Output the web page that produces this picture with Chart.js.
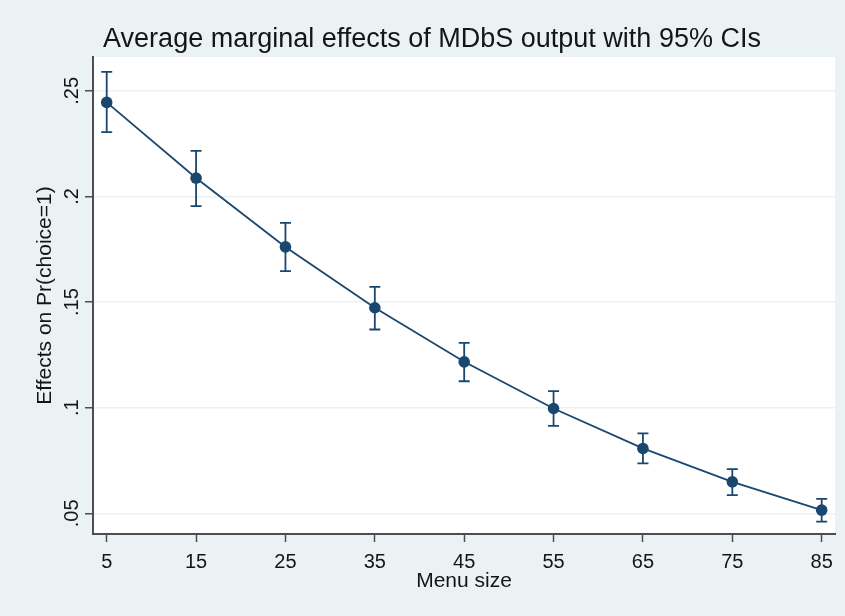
<!DOCTYPE html>
<html>
<head>
<meta charset="utf-8">
<title>Average marginal effects</title>
<script src="https://cdn.jsdelivr.net/npm/chart.js@4.4.0/dist/chart.umd.min.js"></script>
<style>
    html, body { margin: 0; padding: 0; background: #eaf2f3; }
    #wrap { width: 845px; height: 616px; }
</style>
</head>
<body>
<div id="wrap"><canvas id="marginsChart" width="845" height="616"></canvas></div>
<script>
// Menu size categories and estimated margins
const menuSizes = [5, 15, 25, 35, 45, 55, 65, 75, 85];
const effects = [0.2445, 0.2087, 0.1761, 0.1473, 0.1217, 0.0996, 0.0807, 0.0649, 0.0515];
const ciLower = [0.2304, 0.1954, 0.1646, 0.1370, 0.1125, 0.0914, 0.0736, 0.0586, 0.0461];
const ciUpper = [0.2590, 0.2216, 0.1875, 0.1572, 0.1307, 0.1078, 0.0878, 0.0709, 0.0568];

const xTicks = [5, 15, 25, 35, 45, 55, 65, 75, 85];
const yTicks = [0.05, 0.1, 0.15, 0.2, 0.25];
const yTickLabels = ['.05', '.1', '.15', '.2', '.25'];

const navy = '#1a476f';
const axisGray = '#4d4d4d';
const textColor = '#151515';
const fontFamily = '"Liberation Sans", Arial, sans-serif';

// Stata-like backgrounds: bluish gray outside, white plot region
const backgroundPlugin = {
    id: 'stataBackground',
    beforeDraw(chart) {
        const ctx = chart.ctx;
        const a = chart.chartArea;
        ctx.save();
        ctx.fillStyle = '#eaf2f3';
        ctx.fillRect(0, 0, chart.width, chart.height);
        ctx.fillStyle = '#ffffff';
        ctx.fillRect(a.left, a.top, a.right - a.left, a.bottom - a.top);
        ctx.restore();
    }
};

// 95% CI capped spikes, drawn under the line and markers
const errorBarPlugin = {
    id: 'errorBars',
    beforeDatasetsDraw(chart) {
        const ctx = chart.ctx;
        const xs = chart.scales.x;
        const ys = chart.scales.y;
        const cap = 5.5;
        ctx.save();
        ctx.strokeStyle = navy;
        ctx.lineWidth = 1.8;
        for (let i = 0; i < menuSizes.length; i++) {
            const x = xs.getPixelForValue(menuSizes[i]);
            const yLo = ys.getPixelForValue(ciLower[i]);
            const yHi = ys.getPixelForValue(ciUpper[i]);
            ctx.beginPath();
            ctx.moveTo(x, yLo);
            ctx.lineTo(x, yHi);
            ctx.moveTo(x - cap, yLo);
            ctx.lineTo(x + cap, yLo);
            ctx.moveTo(x - cap, yHi);
            ctx.lineTo(x + cap, yHi);
            ctx.stroke();
        }
        ctx.restore();
    }
};

function renderChart() {
    const ctx = document.getElementById('marginsChart');
    new Chart(ctx, {
        type: 'line',
        data: {
            datasets: [{
                label: 'Effects',
                data: menuSizes.map((m, i) => ({ x: m, y: effects[i] })),
                borderColor: navy,
                backgroundColor: navy,
                borderWidth: 1.8,
                pointRadius: 5.8,
                pointBackgroundColor: navy,
                pointBorderWidth: 0,
                tension: 0
            }]
        },
        options: {
            responsive: false,
            animation: false,
            layout: { padding: { left: 29, right: 10, top: 0, bottom: 0 } },
            plugins: {
                legend: { display: false },
                tooltip: { enabled: false },
                title: {
                    display: true,
                    text: 'Average marginal effects of MDbS output with 95% CIs',
                    color: textColor,
                    font: { family: fontFamily, size: 27, weight: 'normal' },
                    padding: { top: 23, bottom: 1.6 }
                }
            },
            scales: {
                x: {
                    type: 'linear',
                    min: 3.467,
                    max: 86.49,
                    afterBuildTicks(scale) {
                        scale.ticks = xTicks.map(v => ({ value: v }));
                    },
                    afterFit(scale) {
                        scale.height = 82;
                    },
                    grid: {
                        drawOnChartArea: false,
                        drawTicks: true,
                        tickLength: 8,
                        tickColor: axisGray,
                        tickWidth: 1.5
                    },
                    border: { color: axisGray, width: 2 },
                    ticks: {
                        color: textColor,
                        padding: 8,
                        maxRotation: 0,
                        autoSkip: false,
                        font: { family: fontFamily, size: 20 }
                    },
                    title: {
                        display: true,
                        text: 'Menu size',
                        color: textColor,
                        font: { family: fontFamily, size: 21 },
                        padding: { top: 0, bottom: 22 }
                    }
                },
                y: {
                    type: 'linear',
                    min: 0.0402,
                    max: 0.266,
                    afterBuildTicks(scale) {
                        scale.ticks = yTicks.map(v => ({ value: v }));
                    },
                    afterFit(scale) {
                        scale.width = 64;
                    },
                    grid: {
                        color: '#eaf2f3',
                        lineWidth: 1.5,
                        drawTicks: true,
                        tickLength: 8,
                        tickColor: axisGray,
                        tickWidth: 1.5
                    },
                    border: { color: axisGray, width: 2 },
                    ticks: {
                        color: textColor,
                        padding: -1,
                        minRotation: 90,
                        maxRotation: 90,
                        crossAlign: 'center',
                        autoSkip: false,
                        font: { family: fontFamily, size: 20 },
                        callback: function(value, index) {
                            return yTickLabels[index];
                        }
                    },
                    title: {
                        display: true,
                        text: 'Effects on Pr(choice=1)',
                        color: textColor,
                        font: { family: fontFamily, size: 21 },
                        padding: { top: 4, bottom: 0 }
                    }
                }
            }
        },
        plugins: [backgroundPlugin, errorBarPlugin]
    });
}

renderChart();
</script>
</body>
</html>
